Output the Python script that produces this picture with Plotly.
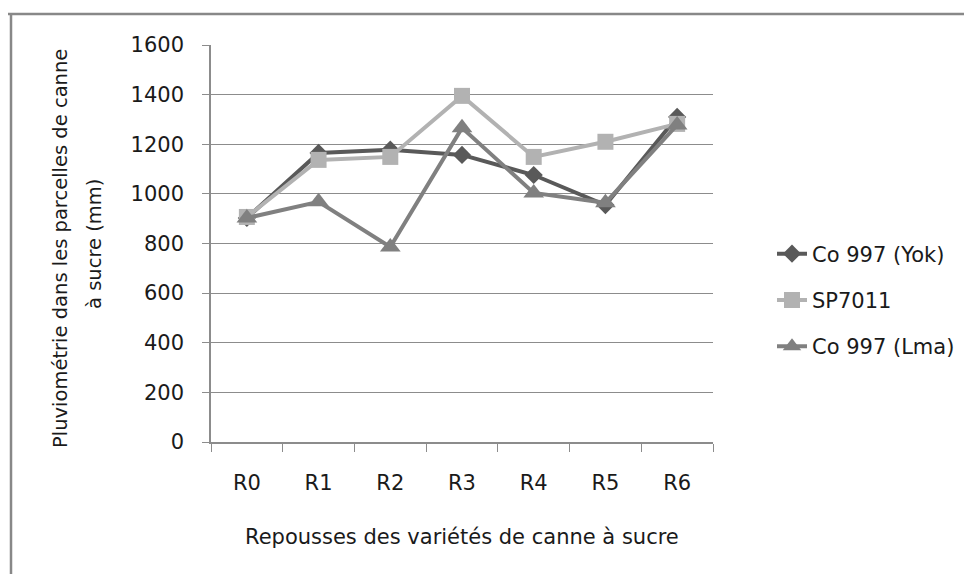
import plotly.graph_objects as go

categories = ["R0", "R1", "R2", "R3", "R4", "R5", "R6"]
yok = [903, 1165, 1178, 1157, 1076, 955, 1310]
sp7011 = [907, 1137, 1149, 1395, 1149, 1210, 1282]
lma = [903, 968, 786, 1266, 1004, 964, 1278]

FONT = "DejaVu Sans"
TXT = "#1a1a1a"

# plot area in page pixels (page has an 8px body margin)
PX0, PX1, PY0, PY1 = 211, 713, 45, 442
PW, PH = PX1 - PX0, PY1 - PY0


def px(x):
    return (x - PX0) / PW


def py(y):
    return (PY1 - y) / PH


fig = go.Figure()
fig.add_trace(go.Scatter(x=categories, y=yok, name="Co 997 (Yok)", mode="lines+markers",
                         legendgroup="a",
                         line=dict(color="#595959", width=4),
                         marker=dict(symbol="diamond", size=14, color="#595959")))
fig.add_trace(go.Scatter(x=categories, y=sp7011, name="SP7011", mode="lines+markers",
                         legendgroup="b",
                         line=dict(color="#b2b2b2", width=4),
                         marker=dict(symbol="square", size=16, color="#b2b2b2")))
fig.add_trace(go.Scatter(x=categories, y=lma, name="Co 997 (Lma)", mode="lines+markers",
                         legendgroup="c",
                         line=dict(color="#808080", width=4),
                         marker=dict(symbol="triangle-up", size=18, color="#808080")))

fig.update_layout(
    width=964, height=566,
    paper_bgcolor="white", plot_bgcolor="white",
    margin=dict(l=PX0 - 8, r=972 - PX1, t=PY0 - 8, b=574 - PY1),
    font=dict(family=FONT, size=21, color=TXT),
    showlegend=True,
    legend=dict(x=px(772), y=py(300), xanchor="left", yanchor="middle",
                font=dict(size=21), tracegroupgap=16, itemsizing="trace",
                bgcolor="rgba(0,0,0,0)"),
    xaxis=dict(
        type="category", range=[-0.5, 6.5],
        showline=True, linecolor="#8c8c8c", linewidth=1.5,
        ticks="outside", tickson="boundaries", ticklen=8, tickcolor="#8c8c8c",
        ticklabelstandoff=21, showgrid=False,
    ),
    yaxis=dict(
        range=[0, 1600], dtick=200, tick0=0,
        showline=True, linecolor="#8c8c8c", linewidth=1.5,
        ticks="outside", ticklen=7, tickcolor="#8c8c8c",
        showgrid=True, gridcolor="#8c8c8c", gridwidth=1,
        ticklabelstandoff=14, zeroline=False,
    ),
    annotations=[
        dict(text="Repousses des variétés de canne à sucre", xref="paper", yref="paper",
             x=px(462), y=py(537), xanchor="center", yanchor="middle", showarrow=False,
             font=dict(size=21, color=TXT)),
        dict(text="Pluviométrie dans les parcelles de canne", xref="paper", yref="paper",
             x=px(60), y=py(249), xanchor="center", yanchor="middle", showarrow=False,
             textangle=-90, font=dict(size=19.5, color=TXT)),
        dict(text="à sucre (mm)", xref="paper", yref="paper",
             x=px(95), y=py(244), xanchor="center", yanchor="middle", showarrow=False,
             textangle=-90, font=dict(size=19.5, color=TXT)),
    ],
    shapes=[
        dict(type="line", xref="paper", yref="paper", x0=px(0), x1=px(980),
             y0=py(14), y1=py(14), line=dict(color="#888888", width=2.5)),
        dict(type="line", xref="paper", yref="paper", x0=px(11), x1=px(11),
             y0=py(14), y1=py(580), line=dict(color="#888888", width=2.5)),
    ],
)

fig.write_html("out.html")
